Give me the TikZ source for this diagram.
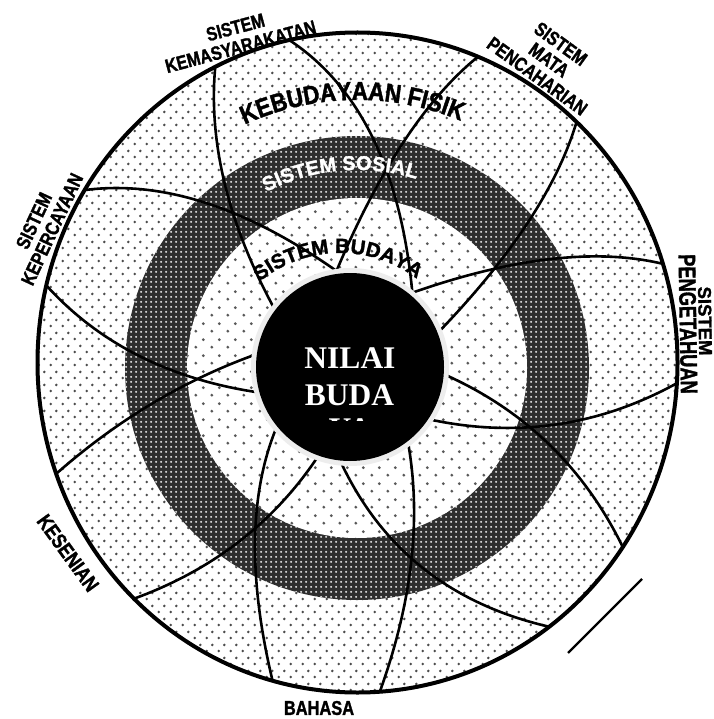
\documentclass[tikz,border=0pt]{standalone}
\usepackage{fontspec}
\setmainfont{Liberation Serif}
\newfontfamily\labfont[FakeStretch=0.82,FakeBold=1.4]{Liberation Sans Bold}
\newfontfamily\widefont[FakeBold=1.4]{Liberation Sans Bold}
\newfontfamily\narfont[FakeStretch=0.76,FakeBold=1.4]{Liberation Sans Bold}
\newfontfamily\arcfont[FakeStretch=0.86,FakeBold=1.4]{Liberation Sans Bold}
\usetikzlibrary{calc,patterns.meta,decorations.text}

\tikzdeclarepattern{name=odots,type=uncolored,bounding box={(0pt,0pt) and (12pt,13pt)},tile size={(12pt,13pt)},
  code={\fill (3pt,3.25pt) circle[radius=1.5pt]; \fill (9pt,9.75pt) circle[radius=1.5pt];}}
\tikzdeclarepattern{name=idots,type=uncolored,bounding box={(0pt,0pt) and (16pt,16pt)},tile size={(16pt,16pt)},
  code={\fill (4pt,4pt) circle[radius=1.6pt]; \fill (12pt,12pt) circle[radius=1.6pt];}}
\tikzdeclarepattern{name=ddots,type=uncolored,bounding box={(0pt,0pt) and (4.6pt,4.6pt)},tile size={(4.6pt,4.6pt)},
  code={\fill (2.3pt,2.3pt) circle[radius=1.2pt];}}

\newcommand\myept[2]{\coordinate (#1) at ($(oc)+({320*cos(#2)},{330*sin(#2)})$);}
\newcommand\mycpt[2]{\coordinate (#1) at ($(cc)+(#2:97)$);}
\newcommand\qcurve[3]{\draw[curve] (#1) .. controls ($(#1)!0.667!(#2)$) and ($(#3)!0.667!(#2)$) .. (#3);}

\begin{document}
\begin{tikzpicture}[x=1pt,y=1pt,
  curve/.style={line width=2.6pt, line cap=round},
  lab/.style={font=\labfont\fontsize{19.5}{20}\selectfont, align=center, inner sep=0pt},
  ctext/.style={anchor=base, text=white, inner sep=0pt, font=\bfseries\fontsize{31.5}{31.5}\selectfont}
]
\useasboundingbox (0,0) rectangle (713,-719);
\coordinate (oc) at (357.5,-362.5);
\coordinate (rc) at (357,-368);
\coordinate (cc) at (350,-367);
\coordinate (bc) at (340,-380);

% rings
\fill[white] (oc) ellipse[x radius=320, y radius=330];
\fill[pattern=odots, pattern color=black!70] (oc) ellipse[x radius=320, y radius=330];
\fill[black!82] (rc) circle[radius=232];
\fill[pattern=ddots, pattern color=black!12] (rc) circle[radius=232];
\fill[white] (rc) circle[radius=170];
\fill[pattern=idots, pattern color=black!65] (rc) circle[radius=170];

% outer end points
\myept{A}{116.4} \myept{C}{102.3} \myept{D}{67.9} \myept{E}{46.8}
\myept{F}{17.4} \myept{G}{-3.6} \myept{H}{-34} \myept{I}{-53.2}
\myept{J}{-86} \myept{K}{-105.4} \myept{L}{-134.3} \myept{M}{-160.3}
\myept{N}{166.5} \myept{B}{148.5}
% centre end points
\mycpt{eA}{142} \mycpt{eB}{98} \mycpt{eC}{50} \mycpt{eD}{98}
\mycpt{eE}{22} \mycpt{eF}{50} \mycpt{eG}{-33} \mycpt{eH}{-5}
\mycpt{eI}{-95} \mycpt{eJ}{-53} \mycpt{eK}{-140} \mycpt{eL}{-110}
\mycpt{eM}{173} \mycpt{eN}{-165}
% control points (quadratic)
\coordinate (qA) at (205,-180); \coordinate (qB) at (200,-175);
\coordinate (qC) at (395,-110); \coordinate (qD) at (400,-120);
\coordinate (qE) at (548,-218); \coordinate (qF) at (563,-240);
\coordinate (qG) at (561,-447); \coordinate (qH) at (565,-429);
\coordinate (qI) at (403,-593); \coordinate (qJ) at (428,-558);
\coordinate (qK) at (236,-528); \coordinate (qL) at (251,-556);
\coordinate (qM) at (147,-394); \coordinate (qN) at (125,-372);

\qcurve{A}{qA}{eA}
\qcurve{B}{qB}{eB}
\qcurve{C}{qC}{eC}
\qcurve{D}{qD}{eD}
\qcurve{E}{qE}{eE}
\qcurve{F}{qF}{eF}
\qcurve{G}{qG}{eG}
\qcurve{H}{qH}{eH}
\qcurve{I}{qI}{eI}
\qcurve{J}{qJ}{eJ}
\qcurve{K}{qK}{eK}
\qcurve{L}{qL}{eL}
\qcurve{M}{qM}{eM}
\qcurve{N}{qN}{eN}

\draw[line width=4pt] (oc) ellipse[x radius=320, y radius=330];

% centre
\fill[black!7] (cc) circle[radius=99];
\fill[black] (cc) circle[radius=94];
\node[ctext] (nilai) at (350,-368) {NILAI};
\node[ctext] (buda) at (349.5,-405) {BUDA};
\begin{scope}
\clip (300,-417) rectangle (400,-420);
\node[ctext] (ya) at (350,-439) {YA};
\end{scope}

% arc texts
\path[decorate, decoration={text along path, text align=center,
  text={|\arcfont\fontsize{26}{26}\selectfont|KEBUDAYAAN FISIK}}]
  ($(rc)+(151:268)$) arc[start angle=151, end angle=31, radius=268];
\path[decorate, decoration={text along path, text align=center, text color=white,
  text={|\widefont\fontsize{20}{20}\selectfont|SISTEM SOSIAL}}]
  ($(rc)+(155:198)$) arc[start angle=155, end angle=35, radius=198];
\path[decorate, decoration={text along path, text align=center,
  text={|\widefont\fontsize{20.5}{20.5}\selectfont|SISTEM BUDAYA}}]
  ($(bc)+(151:127)$) arc[start angle=151, end angle=31, radius=127];

% labels
\node[lab, rotate=15] (kemas) at (238,-37) {SISTEM\\KEMASYARAKATAN};
\node[lab, rotate=-36] (penc) at (549,-60) {SISTEM\\MATA\\PENCAHARIAN};
\node[lab, rotate=65] (keperc) at (43,-225) {SISTEM\\KEPERCAYAAN};
\node[lab, rotate=-89, font=\widefont\fontsize{18.5}{18.5}\selectfont] (peng1) at (705,-321) {SISTEM};
\node[lab, rotate=-89, font=\narfont\fontsize{24}{24}\selectfont] (peng2) at (688,-324) {PENGETAHUAN};
\node[lab, rotate=-54, font=\labfont\fontsize{21}{21}\selectfont] (kesenian) at (68,-553) {KESENIAN};
\node[lab, font=\labfont\fontsize{20}{20}\selectfont] (bahasa) at (319,-708) {BAHASA};

% stray stroke
\coordinate (s1) at (568,-653);
\coordinate (s2) at (642,-579);
\draw[line width=2.4pt] (s1) -- (s2);
\end{tikzpicture}
\end{document}
